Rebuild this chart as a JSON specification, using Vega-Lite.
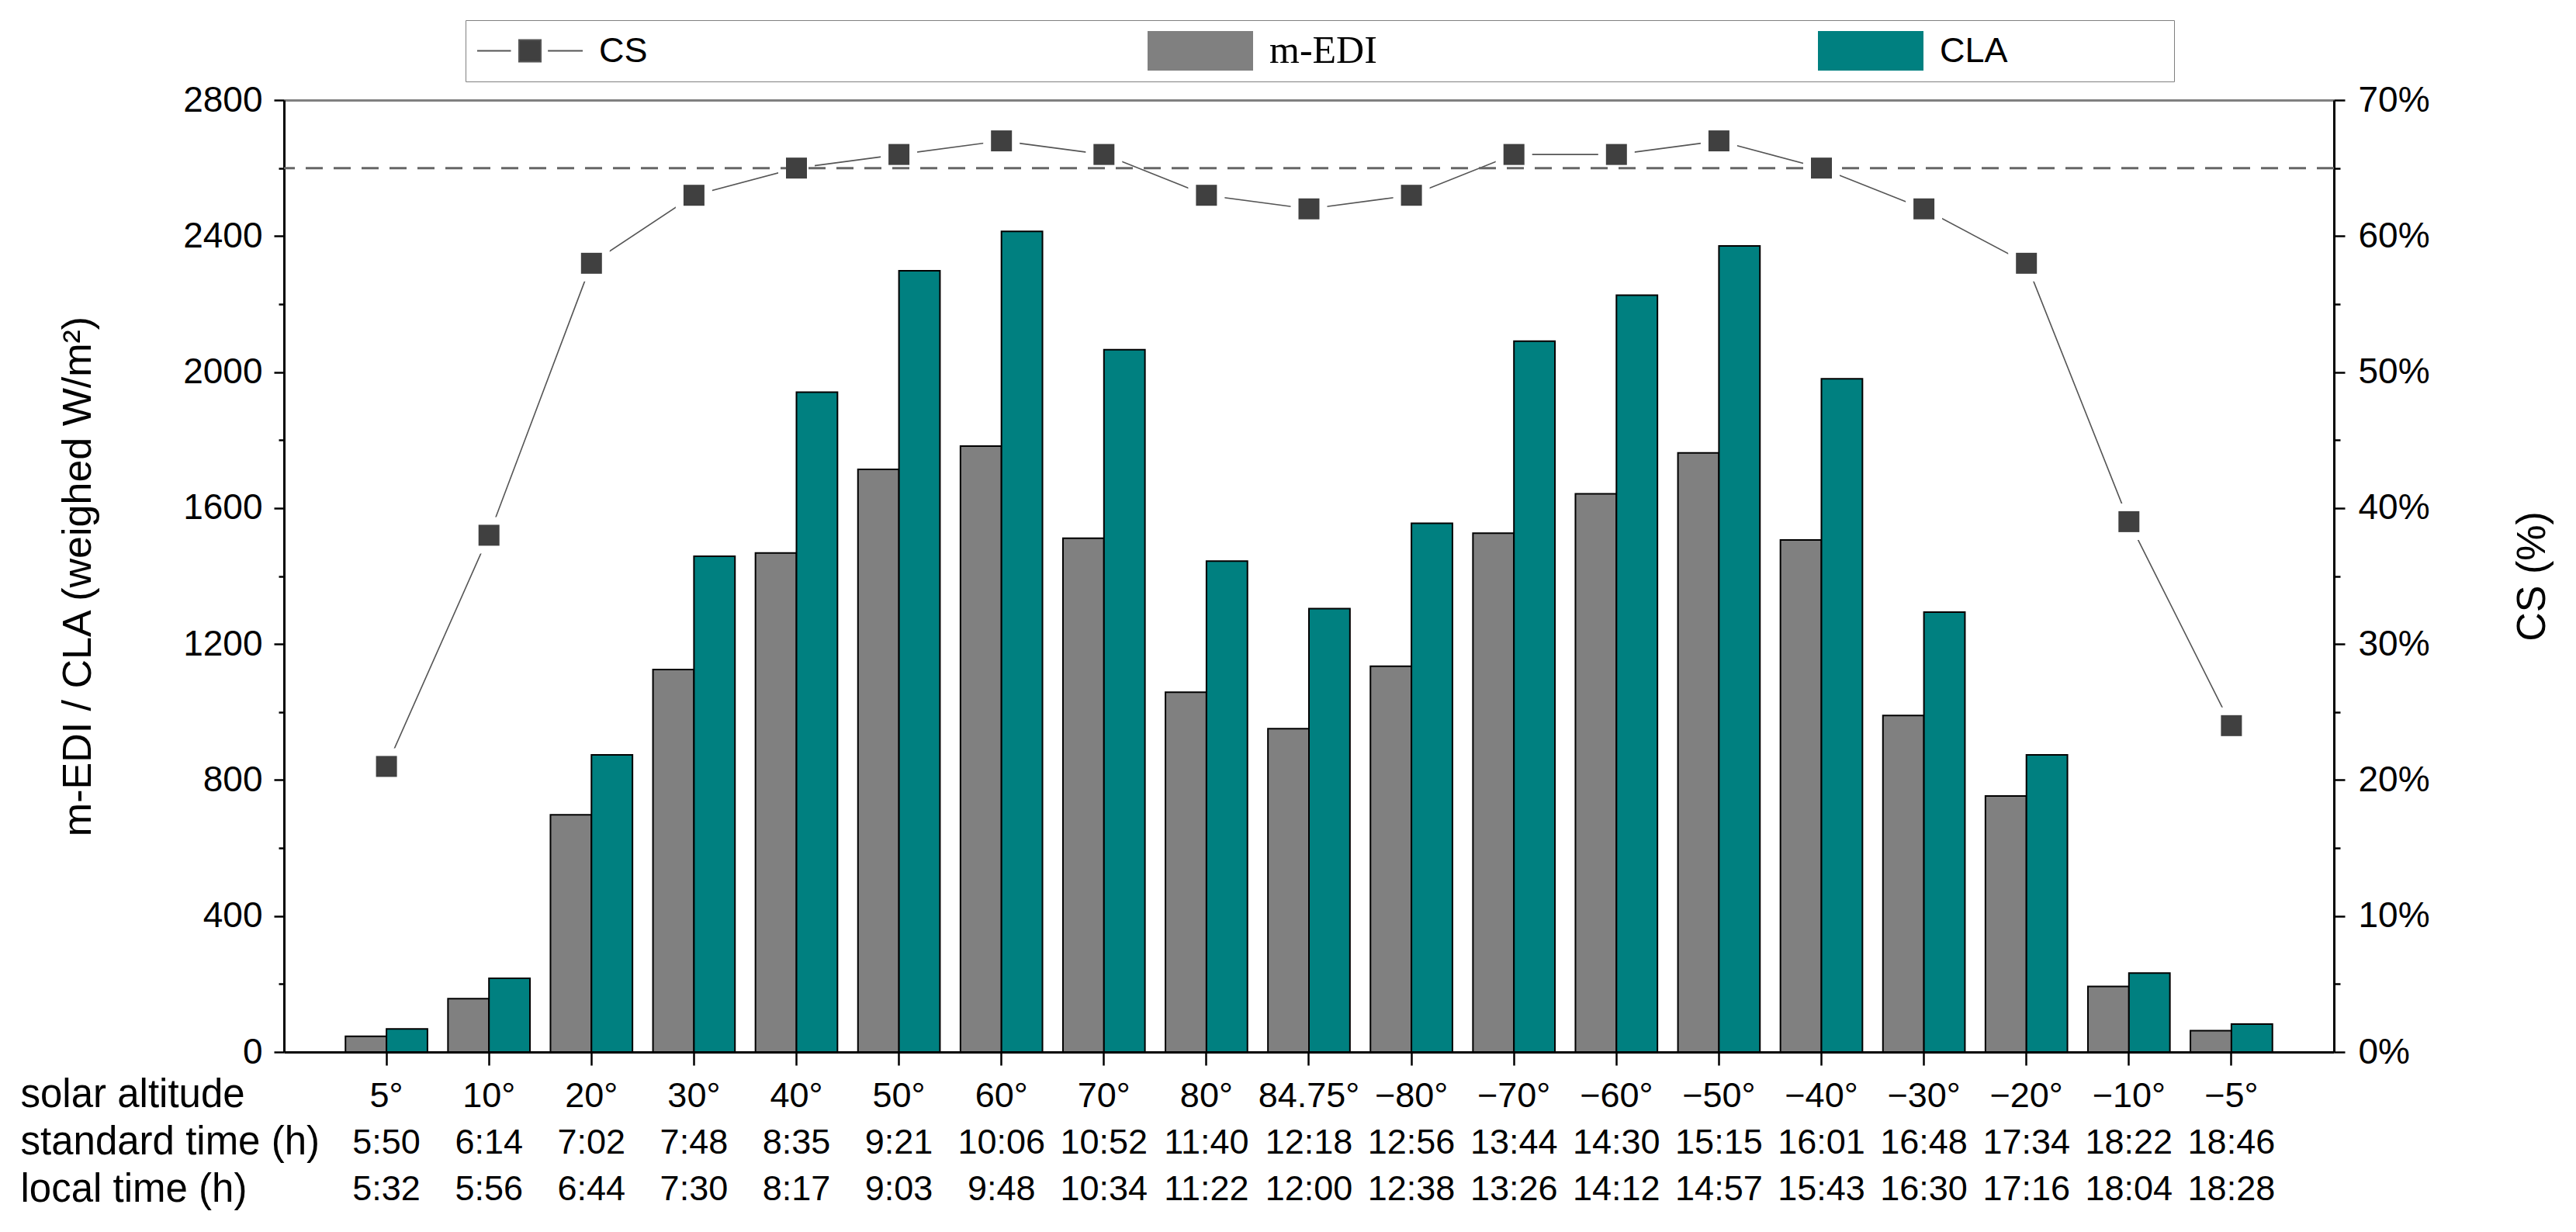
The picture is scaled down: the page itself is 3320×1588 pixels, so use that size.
{
  "$schema": "https://vega.github.io/schema/vega-lite/v6.json",
  "width": 2642,
  "height": 1227,
  "autosize": {"type": "none"},
  "padding": {"left": 366, "top": 129, "right": 312, "bottom": 232},
  "background": "white",
  "config": {
    "font": "Liberation Sans",
    "view": {"stroke": null},
    "axis": {"grid": false, "labelColor": "black", "titleColor": "black", "titleFontWeight": "normal", "domainColor": "black", "tickColor": "black"}
  },
  "data": {
    "values": [
      {"slot": "5°|5:50|5:32", "m-EDI": 46, "CLA": 68, "cs": 0.21},
      {"slot": "10°|6:14|5:56", "m-EDI": 157, "CLA": 217, "cs": 0.38},
      {"slot": "20°|7:02|6:44", "m-EDI": 698, "CLA": 874, "cs": 0.58},
      {"slot": "30°|7:48|7:30", "m-EDI": 1125, "CLA": 1458, "cs": 0.63},
      {"slot": "40°|8:35|8:17", "m-EDI": 1468, "CLA": 1941, "cs": 0.65},
      {"slot": "50°|9:21|9:03", "m-EDI": 1714, "CLA": 2298, "cs": 0.66},
      {"slot": "60°|10:06|9:48", "m-EDI": 1782, "CLA": 2414, "cs": 0.67},
      {"slot": "70°|10:52|10:34", "m-EDI": 1511, "CLA": 2066, "cs": 0.66},
      {"slot": "80°|11:40|11:22", "m-EDI": 1058, "CLA": 1444, "cs": 0.63},
      {"slot": "84.75°|12:18|12:00", "m-EDI": 951, "CLA": 1304, "cs": 0.62},
      {"slot": "−80°|12:56|12:38", "m-EDI": 1135, "CLA": 1555, "cs": 0.63},
      {"slot": "−70°|13:44|13:26", "m-EDI": 1526, "CLA": 2091, "cs": 0.66},
      {"slot": "−60°|14:30|14:12", "m-EDI": 1642, "CLA": 2226, "cs": 0.66},
      {"slot": "−50°|15:15|14:57", "m-EDI": 1762, "CLA": 2371, "cs": 0.67},
      {"slot": "−40°|16:01|15:43", "m-EDI": 1506, "CLA": 1980, "cs": 0.65},
      {"slot": "−30°|16:48|16:30", "m-EDI": 990, "CLA": 1294, "cs": 0.62},
      {"slot": "−20°|17:34|17:16", "m-EDI": 753, "CLA": 874, "cs": 0.58},
      {"slot": "−10°|18:22|18:04", "m-EDI": 193, "CLA": 232, "cs": 0.39},
      {"slot": "−5°|18:46|18:28", "m-EDI": 63, "CLA": 82, "cs": 0.24}
    ]
  },
  "layer": [
    {
      "transform": [{"fold": ["m-EDI", "CLA"], "as": ["series", "value"]}],
      "mark": {"type": "bar", "stroke": "black", "strokeWidth": 2},
      "encoding": {
        "x": {
          "field": "slot", "type": "nominal", "sort": null,
          "scale": {"paddingInner": 0, "paddingOuter": 0.5},
          "axis": {
            "orient": "bottom",
            "labelExpr": "split(datum.label, '|')",
            "labelFontSize": 45, "labelLineHeight": 60, "labelPadding": 17,
            "labelAngle": 0, "labelOverlap": false, "labelBound": false,
            "tickSize": 17, "tickWidth": 2.5, "domainWidth": 3,
            "title": ["solar altitude", "standard time (h)", "local time (h)"],
            "titleFontSize": 51, "titleLineHeight": 61, "titleAlign": "left",
            "titleAnchor": "start", "titleBaseline": "alphabetic",
            "titleX": -340, "titleY": 70
          }
        },
        "xOffset": {
          "field": "series", "type": "nominal",
          "scale": {"domain": ["m-EDI", "CLA"], "paddingInner": 0, "paddingOuter": 0.25}
        },
        "y": {
          "field": "value", "type": "quantitative", "stack": null,
          "scale": {"domain": [0, 2800], "nice": false, "zero": true},
          "axis": {
            "orient": "left",
            "title": "m-EDI / CLA (weighed W/m²)",
            "values": [0, 200, 400, 600, 800, 1000, 1200, 1400, 1600, 1800, 2000, 2200, 2400, 2600, 2800],
            "format": "d",
            "labelExpr": "datum.value % 400 == 0 ? datum.label : ''",
            "tickSize": {"condition": {"test": "datum.value % 400 == 0", "value": 13}, "value": 7},
            "tickWidth": 2.5, "domainWidth": 3,
            "labelPadding": 15, "labelFontSize": 46,
            "titleFontSize": 52, "titlePadding": 108
          }
        },
        "color": {
          "field": "series", "type": "nominal",
          "scale": {"domain": ["CS", "m-EDI", "CLA"], "range": ["#404040", "#808080", "#008080"]},
          "legend": {
            "orient": "none", "legendX": 234, "legendY": -103,
            "direction": "horizontal", "columns": 3, "gridAlign": "all",
            "title": " ", "titleOrient": "right", "titlePadding": 200, "titleFontSize": 12,
            "padding": 14, "strokeColor": "#808080", "fillColor": "white",
            "clipHeight": 51,
            "symbolSize": 18496,
            "symbolType": {"expr": "datum.value == 'CS' ? 'M-1,0H-0.36M-0.206,-0.206H0.206V0.206H-0.206ZM0.34,0H1' : 'M-1,-0.375H1V0.375H-1Z'"},
            "symbolStrokeColor": {"expr": "datum.value == 'CS' ? '#555555' : 'transparent'"},
            "symbolStrokeWidth": 2,
            "symbolOpacity": 1,
            "labelFont": {"expr": "datum.value == 'm-EDI' ? 'Liberation Serif' : 'Liberation Sans'"},
            "labelFontSize": {"expr": "datum.value == 'm-EDI' ? 50 : 45"},
            "labelColor": "black",
            "labelOffset": 20,
            "columnPadding": 567
          }
        }
      }
    },
    {
      "encoding": {
        "x": {
          "field": "slot", "type": "nominal", "sort": null,
          "axis": {"orient": "top", "labels": false, "ticks": false, "domainColor": "#808080", "domainWidth": 3, "title": null}
        },
        "y": {
          "field": "cs", "type": "quantitative",
          "scale": {"domain": [0, 0.7], "nice": false, "zero": true},
          "axis": {
            "orient": "right",
            "title": "CS (%)",
            "values": [0, 0.05, 0.1, 0.15, 0.2, 0.25, 0.3, 0.35, 0.4, 0.45, 0.5, 0.55, 0.6, 0.65, 0.7],
            "format": ".0%",
            "labelExpr": "round(datum.value * 100) % 10 == 0 ? datum.label : ''",
            "tickSize": {"condition": {"test": "round(datum.value * 100) % 10 == 0", "value": 14}, "value": 8},
            "tickWidth": 2.5, "domainWidth": 3,
            "labelPadding": 17, "labelFontSize": 46,
            "titleFontSize": 52, "titleAngle": 270, "titleBaseline": "top", "titlePadding": 107
          }
        }
      },
      "layer": [
        {
          "mark": {"type": "line", "color": "#555555", "strokeWidth": 1.6}
        },
        {
          "mark": {"type": "point", "shape": "square", "filled": true, "color": "white", "opacity": 1, "size": 2209}
        },
        {
          "data": {"values": [{"threshold": 0.65}]},
          "mark": {"type": "rule", "color": "#666666", "strokeWidth": 3, "strokeDash": [22, 14]},
          "encoding": {
            "x": null,
            "y": {
              "field": "threshold", "type": "quantitative",
              "axis": {
                "orient": "right",
                "title": "CS (%)",
                "values": [0, 0.05, 0.1, 0.15, 0.2, 0.25, 0.3, 0.35, 0.4, 0.45, 0.5, 0.55, 0.6, 0.65, 0.7],
                "format": ".0%",
                "labelExpr": "round(datum.value * 100) % 10 == 0 ? datum.label : ''",
                "tickSize": {"condition": {"test": "round(datum.value * 100) % 10 == 0", "value": 14}, "value": 8},
                "tickWidth": 2.5, "domainWidth": 3,
                "labelPadding": 17, "labelFontSize": 46,
                "titleFontSize": 52, "titleAngle": 270, "titleBaseline": "top", "titlePadding": 107
              }
            }
          }
        },
        {
          "mark": {"type": "point", "shape": "square", "filled": true, "color": "#404040", "opacity": 1, "size": 729}
        }
      ]
    }
  ],
  "resolve": {"scale": {"y": "independent"}, "axis": {"x": "independent"}}
}
